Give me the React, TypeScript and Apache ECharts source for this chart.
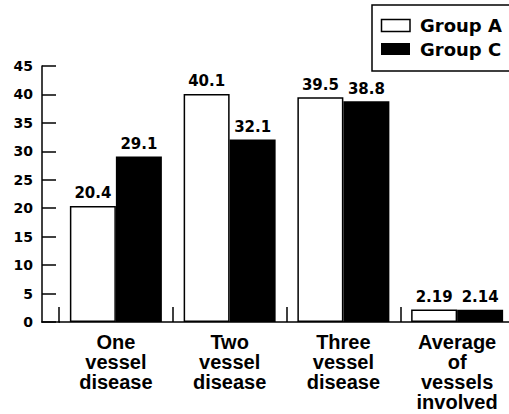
import React, { useEffect, useRef } from "react";
import * as echarts from "echarts";

const categories = [
  "One\nvessel\ndisease",
  "Two\nvessel\ndisease",
  "Three\nvessel\ndisease",
  "Average\nof\nvessels\ninvolved",
];
const groupA = [20.4, 40.1, 39.5, 2.19];
const groupC = [29.1, 32.1, 38.8, 2.14];
const seriesNames = ["Group A", "Group C"];

const NUM_FONT = "DejaVu Sans";
const CAT_FONT = "Liberation Sans";

export default function App() {
  const ref = useRef<HTMLDivElement>(null);
  useEffect(() => {
    if (!ref.current) return;
    const chart = echarts.init(ref.current, null, { renderer: "svg" });
    const labelStyle = {
      show: true,
      position: "top" as const,
      distance: 5,
      color: "#000",
      fontFamily: NUM_FONT,
      fontWeight: "bold" as const,
      fontSize: 15,
    };
    const legendFont = 'bold 18px "DejaVu Sans"';
    chart.setOption({
      animation: false,
      backgroundColor: "#fff",
      grid: {
        left: 59,
        width: 455,
        top: 66,
        bottom: 92,
        containLabel: false,
        outerBoundsMode: "none",
      },
      xAxis: {
        type: "category",
        data: categories,
        axisLine: { show: true, lineStyle: { color: "#000", width: 1.5 } },
        axisTick: { show: true, inside: true, length: 15, lineStyle: { color: "#000", width: 1.5 } },
        axisLabel: {
          color: "#000",
          fontFamily: CAT_FONT,
          fontWeight: "bold",
          fontSize: 20,
          lineHeight: 20,
          margin: 10,
          interval: 0,
        },
        splitLine: { show: false },
      },
      yAxis: {
        type: "value",
        min: 0,
        max: 45,
        interval: 5,
        offset: 17,
        axisLine: { show: true, lineStyle: { color: "#000", width: 1.5 } },
        axisTick: { show: true, inside: true, length: 14, lineStyle: { color: "#000", width: 1.5 } },
        axisLabel: {
          color: "#000",
          fontFamily: NUM_FONT,
          fontWeight: "bold",
          fontSize: 14,
          margin: 9,
        },
        splitLine: { show: false },
      },
      graphic: [
        {
          type: "line",
          shape: { x1: 41.25, y1: 322, x2: 60, y2: 322 },
          style: { stroke: "#000", lineWidth: 1.5 },
          silent: true,
        },
        {
          type: "rect",
          shape: { x: 372, y: 5, width: 160, height: 66 },
          style: { fill: "none", stroke: "#000", lineWidth: 1.5 },
          silent: true,
        },
        {
          type: "rect",
          shape: { x: 381.5, y: 19.5, width: 28.5, height: 12 },
          style: { fill: "#fff", stroke: "#000", lineWidth: 1.5 },
          silent: true,
        },
        {
          type: "rect",
          shape: { x: 381, y: 43, width: 29, height: 12 },
          style: { fill: "#000" },
          silent: true,
        },
        {
          type: "text",
          x: 420,
          y: 25.5,
          style: { text: seriesNames[0], font: legendFont, fill: "#000", verticalAlign: "middle", align: "left" },
          silent: true,
        },
        {
          type: "text",
          x: 420,
          y: 49.5,
          style: { text: seriesNames[1], font: legendFont, fill: "#000", verticalAlign: "middle", align: "left" },
          silent: true,
        },
      ],
      series: [
        {
          name: seriesNames[0],
          type: "bar",
          data: groupA,
          barWidth: 46,
          barGap: "0%",
          itemStyle: { color: "#fff", borderColor: "#000", borderWidth: 1.5 },
          label: labelStyle,
        },
        {
          name: seriesNames[1],
          type: "bar",
          data: groupC,
          barWidth: 46,
          barGap: "0%",
          itemStyle: { color: "#000" },
          label: labelStyle,
        },
      ],
    });
    return () => chart.dispose();
  }, []);
  return (
    <div
      ref={ref}
      style={{ position: "fixed", left: 0, top: 0, width: 509, height: 414, background: "#fff" }}
    />
  );
}
